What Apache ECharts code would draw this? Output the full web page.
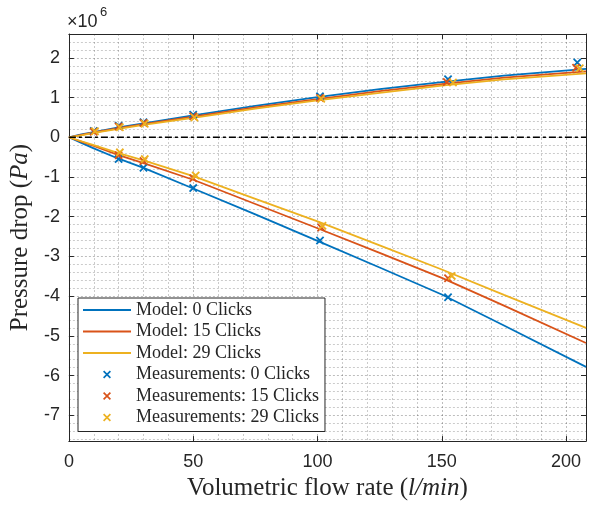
<!DOCTYPE html>
<html>
<head>
<meta charset="utf-8">
<script src="https://cdn.jsdelivr.net/npm/echarts@6/dist/echarts.min.js"></script>
<style>html,body{margin:0;padding:0;background:#fff}#c{width:589px;height:506px}</style>
</head>
<body>
<div id="c"></div>
<script>
// ---- data (pressure in units of 1e6 Pa, flow in l/min) ----
const modelX = [0, 5, 10, 20, 30, 50, 75, 100, 125, 150, 175, 208];
const model0Pos = [0, 0.07, 0.13, 0.25, 0.35, 0.55, 0.79, 1.01, 1.21, 1.39, 1.55, 1.72];
const model15Pos = [0, 0.06, 0.12, 0.23, 0.33, 0.52, 0.75, 0.96, 1.16, 1.34, 1.50, 1.66];
const model29Pos = [0, 0.05, 0.11, 0.21, 0.31, 0.49, 0.72, 0.93, 1.12, 1.30, 1.46, 1.61];
const model0Neg = [0, -0.14, -0.28, -0.54, -0.77, -1.29, -1.94, -2.61, -3.28, -3.96, -4.74, -5.78];
const model15Neg = [0, -0.11, -0.22, -0.45, -0.65, -1.07, -1.68, -2.29, -2.91, -3.54, -4.24, -5.18];
const model29Neg = [0, -0.10, -0.20, -0.40, -0.58, -0.98, -1.55, -2.12, -2.72, -3.33, -3.97, -4.80];

const meas0PosX = [10, 20, 30, 50, 101, 152.5, 204.5];
const meas0PosY = [0.16, 0.29, 0.38, 0.57, 1.03, 1.46, 1.88];
const meas15PosX = [10, 20, 30, 50, 101, 152, 204];
const meas15PosY = [0.14, 0.27, 0.36, 0.53, 0.99, 1.39, 1.75];
const meas29PosX = [10.5, 20.5, 30.5, 50.5, 101.5, 154.5, 205.5];
const meas29PosY = [0.15, 0.25, 0.34, 0.50, 0.97, 1.38, 1.74];

const meas0NegX = [20, 30, 50, 101, 152.5];
const meas0NegY = [-0.55, -0.77, -1.28, -2.60, -4.03];
const meas15NegX = [20, 30, 50, 101.5, 152.5];
const meas15NegY = [-0.45, -0.60, -1.03, -2.27, -3.55];
const meas29NegX = [20.5, 30.5, 51, 102, 154];
const meas29NegY = [-0.38, -0.55, -0.96, -2.23, -3.49];

const zeroLineX = [0, 208];
const zeroLineY = [0, 0];

const names = ['Model: 0 Clicks', 'Model: 15 Clicks', 'Model: 29 Clicks',
  'Measurements: 0 Clicks', 'Measurements: 15 Clicks', 'Measurements: 29 Clicks'];
const colors = ['#0072BD', '#D95319', '#EDB120'];

const xTitle = 'Volumetric flow rate ';
const xTitleUnit = 'l/min';
const yTitle = 'Pressure drop ';
const yTitleUnit = 'Pa';

// ---- helpers ----
const pairs = (xs, ys) => xs.map((x, i) => [x, ys[i]]);
const X_PATH = 'path://M0,1.5L1.5,0L10,8.5L8.5,10Z M8.5,0L10,1.5L1.5,10L0,8.5Z';
const LINE_ICON = 'path://M0,0L48,0L48,1.8L0,1.8Z';
const AX = '#262626';
const sans = 'Liberation Sans';
const serif = 'Liberation Serif';
const gridDot = {type: [2, 2], color: 'rgba(38,38,38,0.3)', width: 1};
const minorDot = {type: [2, 2], color: 'rgba(38,38,38,0.24)', width: 1};

function modelSeries(name, xs, ys, color) {
  return {
    type: 'line', name, data: pairs(xs, ys), showSymbol: false, symbol: 'none',
    smooth: false,
    lineStyle: {color, width: 1.8}, itemStyle: {color}, z: 3, silent: true
  };
}
function measSeries(name, xs, ys, color) {
  return {
    type: 'scatter', name, data: pairs(xs, ys), symbol: X_PATH, symbolSize: 8.5,
    itemStyle: {color, opacity: 1}, z: 5, silent: true
  };
}

const isMult = (v, m) => Math.abs(v / m - Math.round(v / m)) < 1e-6;

const legendData = names.map((n, i) => i < 3
  ? {name: n, icon: LINE_ICON, itemStyle: {color: colors[i], borderWidth: 0}}
  : {name: n, icon: X_PATH, itemStyle: {color: colors[i - 3], borderWidth: 0}});

const option = {
  animation: false,
  backgroundColor: '#fff',
  grid: {left: 65, right: -2, top: 34, bottom: 59.5, containLabel: false},
  xAxis: [{
    type: 'value', min: 0, max: 208, interval: 50,
    axisLine: {show: true, onZero: false, lineStyle: {color: AX, width: 1}},
    axisTick: {show: true, inside: true, length: 5, lineStyle: {color: AX}},
    axisLabel: {fontFamily: sans, fontSize: 18, color: AX, margin: 12,
      formatter: v => isMult(v, 50) ? String(v) : ''},
    splitLine: {show: true, lineStyle: gridDot},
    minorTick: {show: false, splitNumber: 5},
    minorSplitLine: {show: true, lineStyle: minorDot},
    name: xTitle + '({i|' + xTitleUnit + '})',
    nameLocation: 'middle', nameGap: 32,
    nameTextStyle: {fontFamily: serif, fontSize: 25, color: AX,
      rich: {i: {fontFamily: serif, fontSize: 25, fontStyle: 'italic', color: AX}}}
  }, {
    type: 'value', position: 'top', min: 0, max: 208, interval: 50,
    axisLine: {show: true, onZero: false, lineStyle: {color: AX, width: 1}},
    axisTick: {show: true, inside: true, length: 5, lineStyle: {color: AX}},
    axisLabel: {show: false}, splitLine: {show: false}
  }],
  yAxis: [{
    type: 'value', min: -7.65, max: 2.6, splitNumber: 10,
    axisLine: {show: true, onZero: false, lineStyle: {color: AX, width: 1}},
    axisTick: {show: true, inside: true, length: 5, lineStyle: {color: AX}},
    axisLabel: {fontFamily: sans, fontSize: 18, color: AX, margin: 9,
      formatter: v => isMult(v, 1) ? String(Math.round(v)) : ''},
    splitLine: {show: true, lineStyle: gridDot},
    minorTick: {show: false, splitNumber: 5},
    minorSplitLine: {show: true, lineStyle: minorDot},
    name: yTitle + '({i|' + yTitleUnit + '})',
    nameLocation: 'middle', nameGap: 33, nameRotate: 90,
    nameTextStyle: {fontFamily: serif, fontSize: 25, color: AX,
      rich: {i: {fontFamily: serif, fontSize: 25, fontStyle: 'italic', color: AX}}}
  }, {
    type: 'value', position: 'right', min: -7.65, max: 2.6, splitNumber: 10,
    axisLine: {show: true, onZero: false, lineStyle: {color: AX, width: 1}},
    axisTick: {show: true, inside: true, length: 5, lineStyle: {color: AX}},
    axisLabel: {show: false}, splitLine: {show: false}
  }],
  legend: {
    data: legendData,
    orient: 'vertical', left: 78, top: 298,
    padding: [3, 6, 5, 5], itemGap: 3.5, itemWidth: 48, itemHeight: 8,
    backgroundColor: '#fff', borderColor: AX, borderWidth: 1,
    textStyle: {fontFamily: serif, fontSize: 18, lineHeight: 18, color: AX},
    selectedMode: false, z: 10
  },
  graphic: [
    {type: 'text', left: 67, top: 13, z: 10,
      style: {text: '×10', fontFamily: sans, fontSize: 18, fill: AX}},
    {type: 'text', left: 100, top: 6, z: 10,
      style: {text: '6', fontFamily: sans, fontSize: 13, fill: AX}}
  ],
  series: [
    modelSeries(names[0], modelX, model0Pos, colors[0]),
    modelSeries(names[0], modelX, model0Neg, colors[0]),
    modelSeries(names[1], modelX, model15Pos, colors[1]),
    modelSeries(names[1], modelX, model15Neg, colors[1]),
    modelSeries(names[2], modelX, model29Pos, colors[2]),
    modelSeries(names[2], modelX, model29Neg, colors[2]),
    {type: 'line', name: 'zero', data: pairs(zeroLineX, zeroLineY), symbol: 'none',
      lineStyle: {color: '#000', width: 1.5, type: [7, 3, 3, 3]}, z: 4, silent: true},
    measSeries(names[3], meas0PosX.concat(meas0NegX), meas0PosY.concat(meas0NegY), colors[0]),
    measSeries(names[4], meas15PosX.concat(meas15NegX), meas15PosY.concat(meas15NegY), colors[1]),
    measSeries(names[5], meas29PosX.concat(meas29NegX), meas29PosY.concat(meas29NegY), colors[2])
  ]
};

const chart = echarts.init(document.getElementById('c'), null, {renderer: 'canvas'});
chart.setOption(option);
</script>
</body>
</html>
